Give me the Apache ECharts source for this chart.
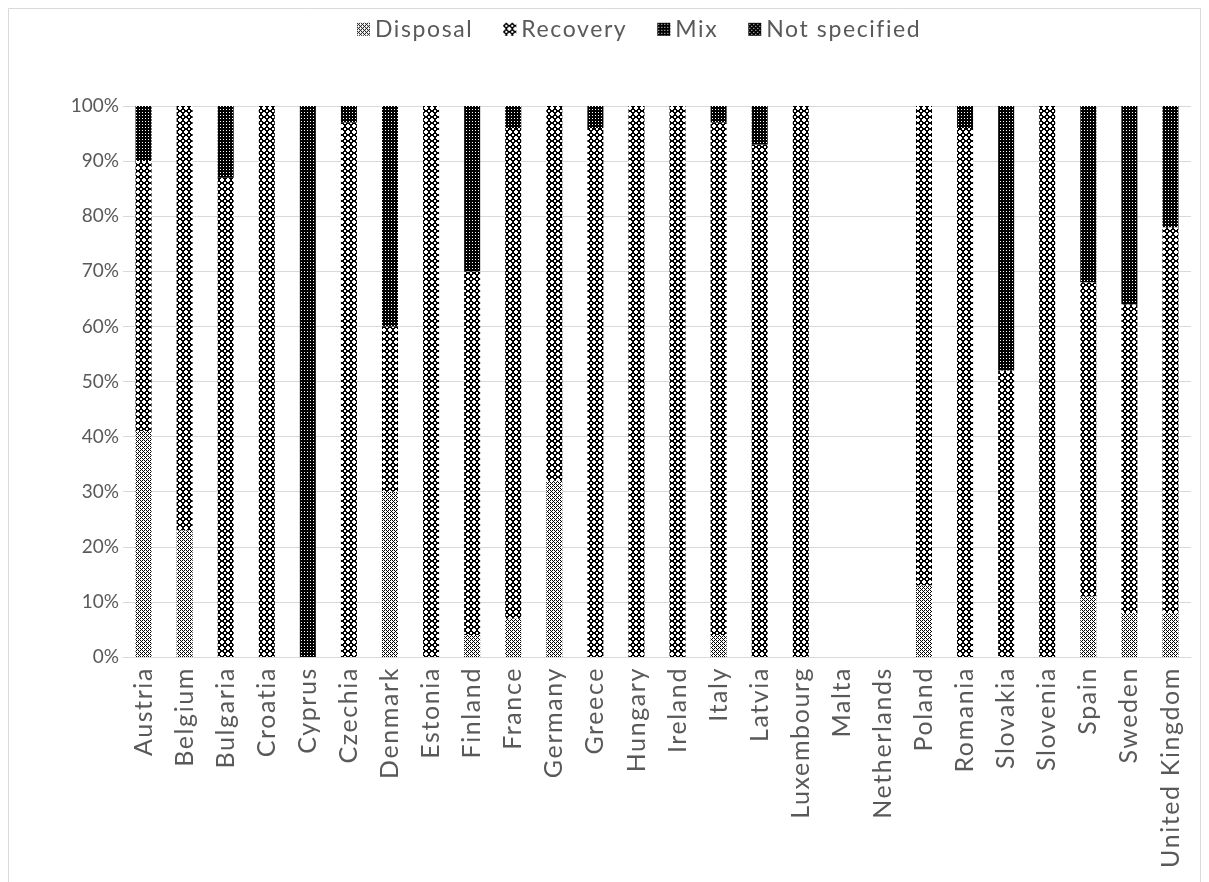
<!DOCTYPE html>
<html>
<head>
<meta charset="utf-8">
<script src="https://cdn.jsdelivr.net/npm/echarts@6/dist/echarts.min.js"></script>
<style>
html,body{margin:0;padding:0;background:#fff;}
#chart{width:1209px;height:882px;}
</style>
</head>
<body>
<div id="chart"></div>
<script>
const categories = ["Austria","Belgium","Bulgaria","Croatia","Cyprus","Czechia","Denmark","Estonia","Finland","France","Germany","Greece","Hungary","Ireland","Italy","Latvia","Luxembourg","Malta","Netherlands","Poland","Romania","Slovakia","Slovenia","Spain","Sweden","United Kingdom"];
const disposal     = [41,23,0,0,0,0,30,0,4,7,32,0,0,0,4,0,0,0,0,13,0,0,0,11,8,8];
const recovery     = [49,77,87,100,0,97,30,100,66,89,68,96,100,100,93,93,100,0,0,87,96,52,100,57,56,70];
const mix          = [10,0,13,0,100,3,40,0,30,4,0,4,0,0,3,7,0,0,0,0,4,48,0,32,36,22];
const notSpecified = [0,0,0,0,0,0,0,0,0,0,0,0,0,0,0,0,0,0,0,0,0,0,0,0,0,0];
const seriesNames = ["Disposal","Recovery","Mix","Not specified"];

// wider letter spacing for the category and legend texts (style only)
(function(){
  const P = CanvasRenderingContext2D.prototype;
  const spaced = {'25px':'1.6px','23px':'1.6px'};
  function sp(font){ for (const k in spaced) if (font && font.indexOf(k) >= 0) return spaced[k]; return '0px'; }
  ['fillText','strokeText','measureText'].forEach(function(fn){
    const orig = P[fn];
    P[fn] = function(){
      const prev = this.letterSpacing;
      this.letterSpacing = sp(this.font);
      const r = orig.apply(this, arguments);
      this.letterSpacing = prev;
      return r;
    };
  });
})();

function makePattern(rows){
  const h = rows.length, w = rows[0].length;
  const c = document.createElement('canvas');
  c.width = w; c.height = h;
  const ctx = c.getContext('2d');
  ctx.fillStyle = '#ffffff'; ctx.fillRect(0,0,w,h);
  ctx.fillStyle = '#000000';
  for (let y=0;y<h;y++) for (let x=0;x<w;x++) if (rows[y][x]==='#') ctx.fillRect(x,y,1,1);
  return {image: c, repeat: 'repeat'};
}
const patDisposal = makePattern([
  "#.#.",
  ".#..",
  "#.#.",
  "...#"]);
const patRecovery = makePattern([
  "..##..",
  ".####.",
  "##..##",
  "##..##",
  ".####.",
  "..##.."]);
const patMix = makePattern([
  "######",
  "#.##.#",
  "######"]);
const patNot = makePattern([
  "####",
  "#.##",
  "####",
  "###."]);
const patterns = [patDisposal, patRecovery, patMix, patNot];
const dataSets = [disposal, recovery, mix, notSpecified];

const FONT = 'Lato';
const chart = echarts.init(document.getElementById('chart'), null, {renderer:'canvas'});
chart.setOption({
  animation:false,
  backgroundColor:'#ffffff',
  graphic:[{type:'rect', shape:{x:8.5,y:8.5,width:1192,height:880}, style:{fill:'none', stroke:'#d9d9d9', lineWidth:1}, silent:true}],
  legend:{
    top:12, left:352, itemWidth:13, itemHeight:13, itemGap:30, icon:'rect',
    textStyle:{color:'#595959', fontSize:23, fontFamily:FONT},
    data: seriesNames
  },
  grid:{left:123, right:18, top:106, bottom:225, containLabel:false},
  xAxis:{
    type:'category', data:categories,
    axisLine:{lineStyle:{color:'#d9d9d9', width:1}},
    axisTick:{show:false},
    axisLabel:{rotate:90, color:'#595959', fontSize:25, fontFamily:FONT, interval:0, margin:10}
  },
  yAxis:{
    type:'value', min:0, max:100, interval:10,
    axisLine:{show:false}, axisTick:{show:false},
    splitLine:{lineStyle:{color:'#d9d9d9', width:1}},
    axisLabel:{formatter:'{value}%', color:'#595959', fontSize:19, fontFamily:FONT, margin:4}
  },
  series: seriesNames.map((n,i)=>({
    name:n, type:'bar', stack:'total', barWidth:16,
    itemStyle:{color:patterns[i]},
    data: dataSets[i]
  }))
});
</script>
</body>
</html>
